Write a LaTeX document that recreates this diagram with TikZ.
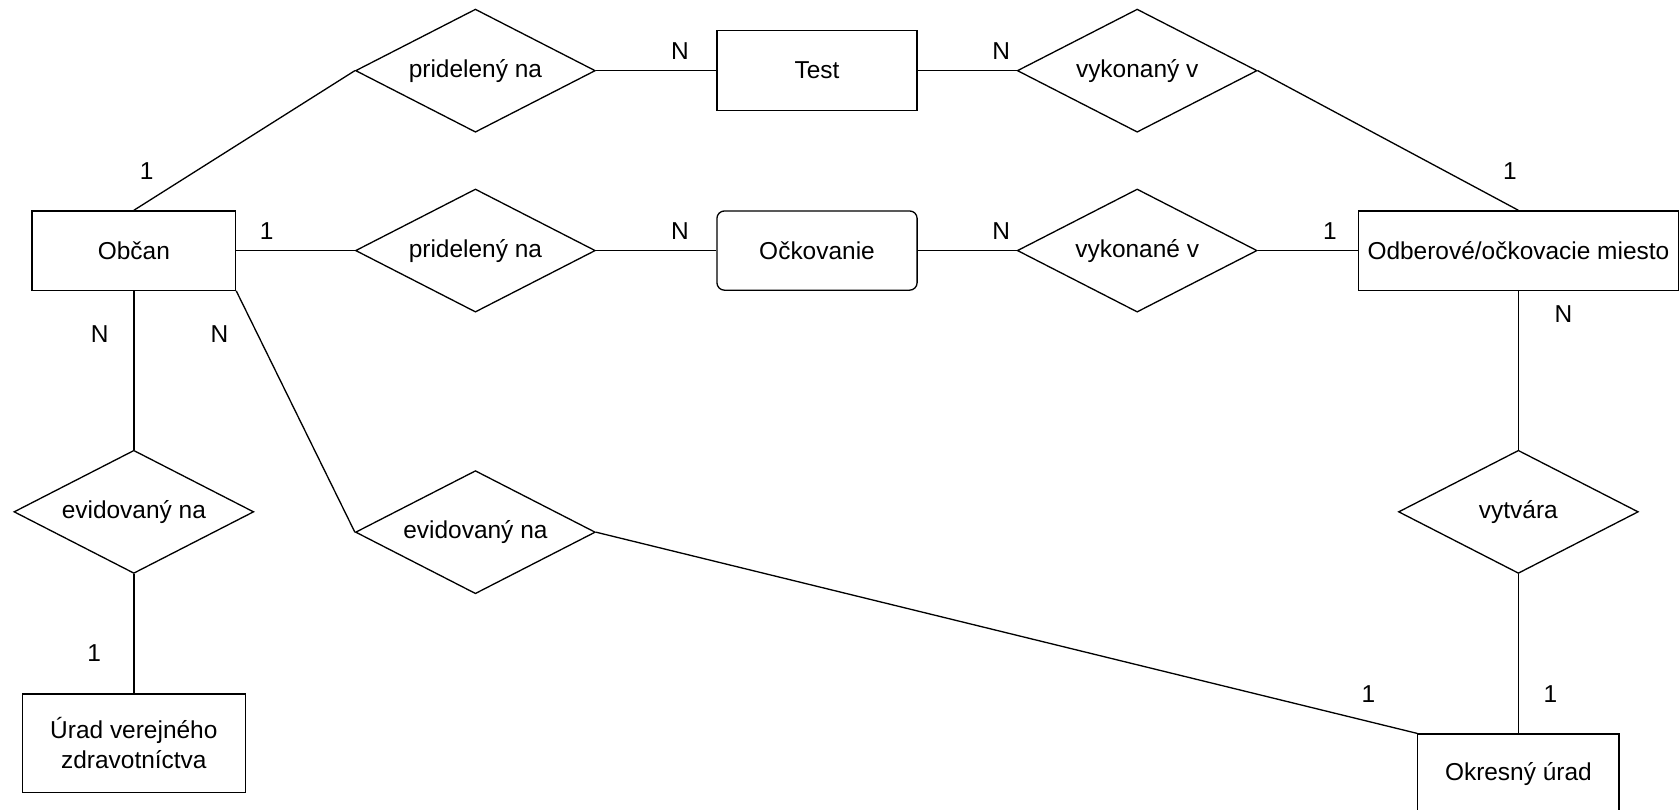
\documentclass[tikz,border=0pt]{standalone}
\usepackage{fontspec}
\setmainfont{Liberation Sans}
\usetikzlibrary{shapes.geometric}

\begin{document}
\begin{tikzpicture}[x=0.02cm,y=-0.02cm,line width=0.7pt,font=\fontsize{13}{15.6}\selectfont]
\tikzstyle{entity} = [draw, rectangle, minimum height=1.48cm, inner sep=2pt]
\tikzstyle{relation} = [draw, diamond, aspect=1.93, minimum width=4.48cm, minimum height=2.3cm, inner sep=0]
\tikzstyle{card} = [inner sep=1pt]

\useasboundingbox (0,0) rectangle (1568,756);

% entity sets
\node[entity, minimum width=3.8cm] (obcan) at (125,234) {Občan};
\node[entity, minimum width=3.74cm, minimum height=1.5cm] (test) at (763,66) {Test};
\node[entity, rounded corners=4pt, minimum width=3.74cm] (ockov) at (763,234) {Očkovanie};
\node[entity, minimum width=5.98cm] (odber) at (1418,234) {Odberové/očkovacie miesto};
\node[entity, minimum width=4.16cm, minimum height=1.84cm, align=center] (urad) at (125,694) {Úrad verejného\\zdravotníctva};
\node[entity, minimum width=3.76cm, minimum height=1.5cm] (okres) at (1418,723) {Okresný úrad};

% relationships
\node[relation] (prid1) at (444,66) {pridelený na};
\node[relation] (vyk1) at (1062,66) {vykonaný v};
\node[relation] (prid2) at (444,234) {pridelený na};
\node[relation] (vyk2) at (1062,234) {vykonané v};
\node[relation] (evid1) at (125,478) {evidovaný na};
\node[relation] (evid2) at (444,497) {evidovaný na};
\node[relation] (vytv) at (1418,478) {vytvára};

\draw (obcan.north) -- (prid1.west);
\draw (prid1.east) -- (test.west);
\draw (test.east) -- (vyk1.west);
\draw (vyk1.east) -- (odber.north);
\draw (obcan.east) -- (prid2.west);
\draw (prid2.east) -- (ockov.west);
\draw (ockov.east) -- (vyk2.west);
\draw (vyk2.east) -- (odber.west);
\draw (obcan.south) -- (evid1.north);
\draw (evid1.south) -- (urad.north);
\draw (obcan.south east) -- (evid2.west);
\draw (evid2.east) -- (okres.north west);
\draw (odber.south) -- (vytv.north);
\draw (vytv.south) -- (okres.north);

% cardinalities
\node[card] (k1) at (137,160) {1};
\node[card] (k2) at (635,48) {N};
\node[card] (k3) at (935,48) {N};
\node[card] (k4) at (1410,160) {1};
\node[card] (k5) at (249,216) {1};
\node[card] (k6) at (635,216) {N};
\node[card] (k7) at (935,216) {N};
\node[card] (k8) at (1242,216) {1};
\node[card] (k9) at (93,312) {N};
\node[card] (k10) at (205,312) {N};
\node[card] (k11) at (88,610) {1};
\node[card] (k12) at (1460,293) {N};
\node[card] (k13) at (1278,648) {1};
\node[card] (k14) at (1448,648) {1};

\end{tikzpicture}
\end{document}
